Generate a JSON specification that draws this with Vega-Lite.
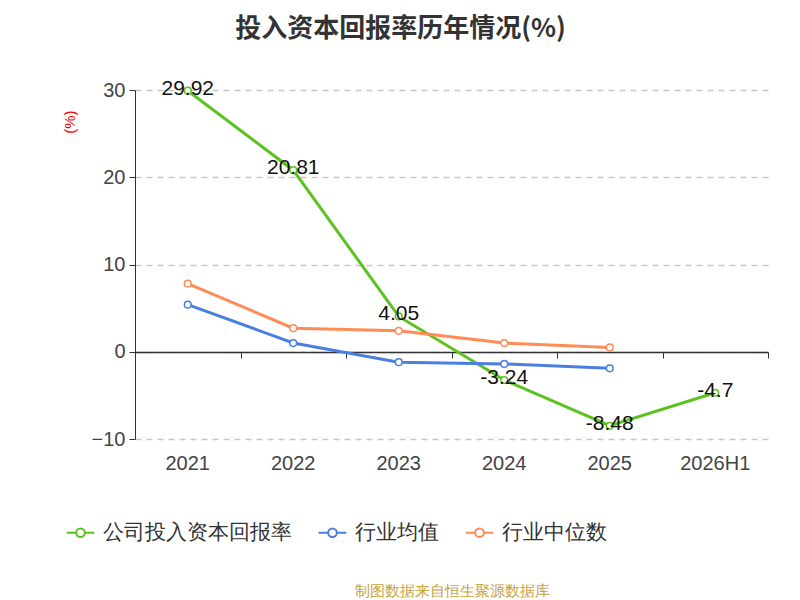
{
  "$schema": "https://vega.github.io/schema/vega-lite/v6.json",
  "autosize": "none",
  "width": 633,
  "height": 349,
  "padding": {"left": 135, "top": 90, "right": 32, "bottom": 161},
  "background": "white",
  "config": {"view": {"stroke": null}},
  "title": {
    "text": "投入资本回报率历年情况(%)",
    "fontSize": 26,
    "fontWeight": "bold",
    "color": "#333333",
    "font": "Noto Sans CJK SC",
    "frame": "group",
    "anchor": "middle",
    "dx": -51,
    "offset": 36
  },
  "data": {
    "values": [
      {"year": "2021", "series": "公司投入资本回报率", "value": 29.92},
      {"year": "2022", "series": "公司投入资本回报率", "value": 20.81},
      {"year": "2023", "series": "公司投入资本回报率", "value": 4.05},
      {"year": "2024", "series": "公司投入资本回报率", "value": -3.24},
      {"year": "2025", "series": "公司投入资本回报率", "value": -8.48},
      {"year": "2026H1", "series": "公司投入资本回报率", "value": -4.7},
      {"year": "2021", "series": "行业均值", "value": 5.4},
      {"year": "2022", "series": "行业均值", "value": 1.0},
      {"year": "2023", "series": "行业均值", "value": -1.2},
      {"year": "2024", "series": "行业均值", "value": -1.4},
      {"year": "2025", "series": "行业均值", "value": -1.9},
      {"year": "2021", "series": "行业中位数", "value": 7.8},
      {"year": "2022", "series": "行业中位数", "value": 2.7},
      {"year": "2023", "series": "行业中位数", "value": 2.4},
      {"year": "2024", "series": "行业中位数", "value": 1.0},
      {"year": "2025", "series": "行业中位数", "value": 0.5}
    ]
  },
  "resolve": {"axis": {"x": "independent"}},
  "encoding": {
    "x": {"field": "year", "type": "ordinal", "scale": {"paddingInner": 0, "paddingOuter": 0, "domain": ["2021","2022","2023","2024","2025","2026H1"]}},
    "y": {
      "field": "value", "type": "quantitative",
      "scale": {"domain": [-10, 30]},
      "axis": {
        "values": [-10, 0, 10, 20, 30],
        "title": "(%)", "titleColor": "red", "titleFontSize": 15, "titleFontWeight": "normal",
        "titleAnchor": "end", "titlePadding": 14, "titleY": 20,
        "labelFontSize": 20, "labelColor": "#444444", "labelPadding": 4,
        "domain": true, "domainColor": "#333333", "tickColor": "#333333", "tickSize": 6,
        "grid": true, "gridDash": [6, 5], "gridColor": "#c8c8c8", "gridWidth": 1.5
      }
    },
    "color": {
      "field": "series", "type": "nominal",
      "scale": {"domain": ["公司投入资本回报率", "行业均值", "行业中位数"], "range": ["#5cc21e", "#4a7fe0", "#ff8c55"]},
      "legend": {
        "orient": "none", "legendX": -65, "legendY": 432, "direction": "horizontal", "title": null,
        "labelFontSize": 21, "labelColor": "#333333", "labelLimit": 300,
        "symbolType": "M-1.6,0L-0.5,0A0.5,0.5 0 1 1 0.5,0A0.5,0.5 0 1 1 -0.5,0M0.5,0L1.6,0",
        "symbolSize": 300, "symbolFillColor": "white", "symbolStrokeWidth": 2, "columnPadding": 22, "labelOffset": 12
      }
    }
  },
  "layer": [
    {
      "mark": {"type": "line", "strokeWidth": 3, "point": {"filled": false, "fill": "white", "size": 45, "strokeWidth": 1.5}},
      "encoding": {
        "x": {"field": "year", "type": "ordinal", "axis": {
          "orient": "bottom", "domain": false, "ticks": false, "labelFontSize": 20, "labelColor": "#444444", "labelAngle": 0, "labelPadding": 14,
          "title": "制图数据来自恒生聚源数据库", "titleFontSize": 15, "titleFontWeight": "normal", "titleColor": "#c9a23a", "titlePadding": 110
        }}
      }
    },
    {
      "mark": {"type": "text", "fontSize": 21, "color": "#111111", "baseline": "middle", "dy": -2},
      "transform": [{"filter": "datum.series == '公司投入资本回报率'"}],
      "encoding": {
        "x": {"field": "year", "type": "ordinal", "axis": {"orient": "bottom", "offset": -87, "labels": false, "title": null, "domain": true, "domainColor": "#333333", "domainWidth": 1.5, "ticks": true, "tickBand": "extent", "tickColor": "#333333", "tickSize": 6}},
        "text": {"field": "value"},
        "color": {"value": "#111111"}
      }
    }
  ]
}
